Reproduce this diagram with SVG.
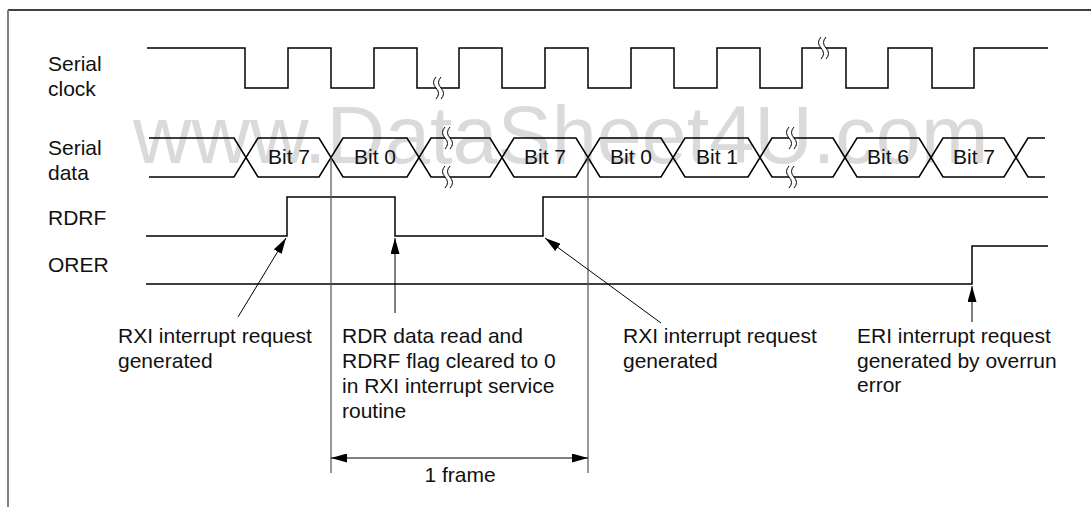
<svg xmlns="http://www.w3.org/2000/svg" width="1091" height="507" viewBox="0 0 1091 507">
<defs>
<style>
text{font-family:"Liberation Sans",Arial,sans-serif;font-size:21px;fill:#111}
.wm{font-size:81px;fill:#dadada}
.w{fill:none;stroke:#000;stroke-width:1.5}
.c{fill:none;stroke:#000;stroke-width:1}
.g{fill:none;stroke:#555;stroke-width:1.2}
.brk{fill:none;stroke:#000;stroke-width:1}
.gap{fill:#fff;stroke:none}
.mid{text-anchor:middle}
</style>
<marker id="ah" viewBox="0 0 16 9" refX="16" refY="4.5" markerWidth="16" markerHeight="9" markerUnits="userSpaceOnUse" orient="auto-start-reverse">
<path d="M0,0 L16,4.5 L0,9 z" fill="#000"/>
</marker>
<g id="bm">
<path class="gap" d="M0,-11 q-5,5.5 0,11 q5,5.5 0,11 L5,11 q5,-5.5 0,-11 q-5,-5.5 0,-11 Z"/>
<path class="brk" d="M0,-11 q-5,5.5 0,11 q5,5.5 0,11 M5,-11 q-5,5.5 0,11 q5,5.5 0,11"/>
</g>
</defs>
<rect width="1091" height="507" fill="#fff"/>
<text class="wm" x="133" y="163">www.DataSheet4U.com</text>
<g id="frame">
<line x1="8" y1="10" x2="1091" y2="10" stroke="#000" stroke-width="1.5"/>
<line x1="8" y1="10" x2="8" y2="507" stroke="#808080" stroke-width="2"/>
</g>
<g id="labels">
<text x="48" y="71">Serial</text>
<text x="48" y="96">clock</text>
<text x="48" y="155">Serial</text>
<text x="48" y="180">data</text>
<text x="48" y="225">RDRF</text>
<text x="48" y="272">ORER</text>
</g>
<g id="signal-clock">
<path class="w" d="M147,48 H245 V88 H288 V48 H331 V88 H374 V48 H417 V88 H459 V48 H502 V88 H545 V48 H588 V88 H631 V48 H674 V88 H717 V48 H760 V88 H802 V48 H846 V88 H888 V48 H932 V88 H974 V48 H1048"/>
<use href="#bm" x="436" y="88"/>
<use href="#bm" x="821" y="48"/>
</g>
<g id="signal-data">
<path class="w" d="M149,138 H234 L258,177 H319 L343,138 H407 L431,177 H490 L514,138 H576 L600,177 H661 L685,138 H748 L772,177 H833 L857,138 H919 L943,177 H1004 L1028,138 H1045"/>
<path class="w" d="M149,177 H234 L258,138 H319 L343,177 H407 L431,138 H490 L514,177 H576 L600,138 H661 L685,177 H748 L772,138 H833 L857,177 H919 L943,138 H1004 L1028,177 H1045"/>
<use href="#bm" x="445" y="138"/>
<use href="#bm" x="445" y="177"/>
<use href="#bm" x="789" y="138"/>
<use href="#bm" x="789" y="177"/>
<text class="mid" x="289" y="164">Bit 7</text>
<text class="mid" x="375" y="164">Bit 0</text>
<text class="mid" x="545" y="164">Bit 7</text>
<text class="mid" x="631" y="164">Bit 0</text>
<text class="mid" x="717" y="164">Bit 1</text>
<text class="mid" x="888" y="164">Bit 6</text>
<text class="mid" x="974" y="164">Bit 7</text>
</g>
<g id="signal-rdrf">
<path class="w" d="M146,236 H287 V197 H395 V236 H543 V197 H1048"/>
</g>
<g id="signal-orer">
<path class="w" d="M146,284 H972 V246 H1048"/>
</g>
<g id="note-rxi1">
<text x="118" y="343">RXI interrupt request</text>
<text x="118" y="368">generated</text>
</g>
<g id="note-rdr">
<text x="342" y="343">RDR data read and</text>
<text x="342" y="368">RDRF flag cleared to 0</text>
<text x="342" y="393">in RXI interrupt service</text>
<text x="342" y="418">routine</text>
</g>
<g id="note-rxi2">
<text x="623" y="343">RXI interrupt request</text>
<text x="623" y="368">generated</text>
</g>
<g id="note-eri">
<text x="857" y="343">ERI interrupt request</text>
<text x="857" y="368">generated by overrun</text>
<text x="857" y="392">error</text>
</g>
<g id="frame-dim">
<text class="mid" x="460" y="482">1 frame</text>
</g>
<g id="connectors">
<line class="g" x1="331" y1="157.5" x2="331" y2="473"/>
<line class="g" x1="588" y1="157.5" x2="588" y2="473"/>
<line class="c" x1="331" y1="458" x2="588" y2="458" marker-start="url(#ah)" marker-end="url(#ah)"/>
<line class="c" x1="238" y1="317" x2="286" y2="238" marker-end="url(#ah)"/>
<line class="c" x1="395" y1="313" x2="395" y2="238" marker-end="url(#ah)"/>
<line class="c" x1="661" y1="323" x2="545" y2="238" marker-end="url(#ah)"/>
<line class="c" x1="972" y1="322" x2="972" y2="286" marker-end="url(#ah)"/>
</g>
</svg>
